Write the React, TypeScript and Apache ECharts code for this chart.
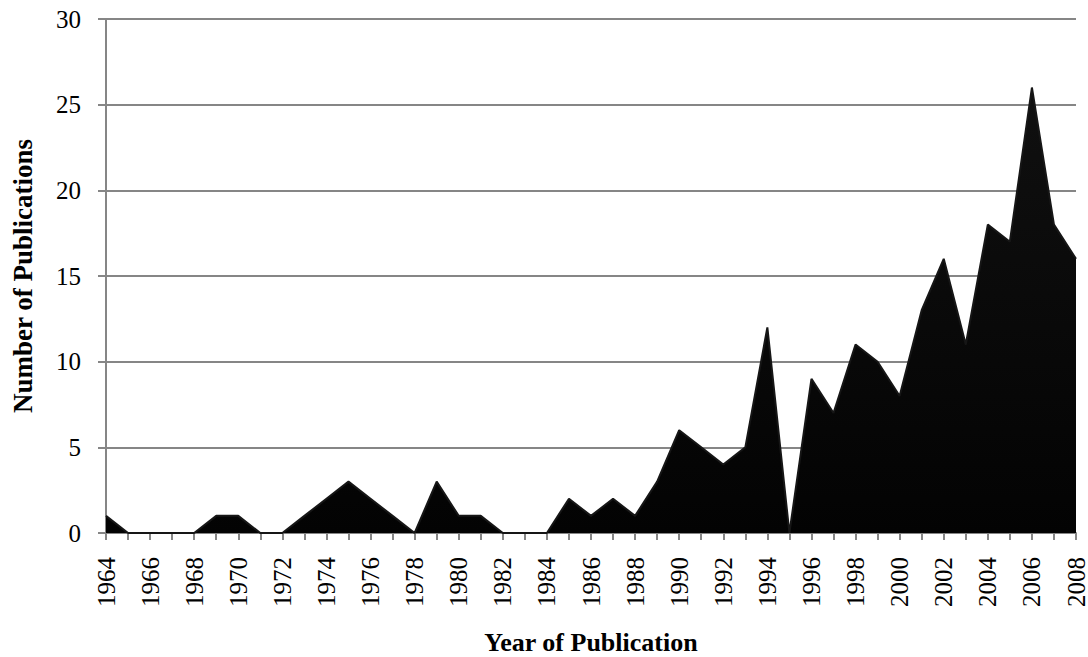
import React, { useEffect, useRef } from "react";
import * as echarts from "echarts";

const years: string[] = [
  "1964", "1965", "1966", "1967", "1968", "1969", "1970", "1971", "1972", "1973",
  "1974", "1975", "1976", "1977", "1978", "1979", "1980", "1981", "1982", "1983",
  "1984", "1985", "1986", "1987", "1988", "1989", "1990", "1991", "1992", "1993",
  "1994", "1995", "1996", "1997", "1998", "1999", "2000", "2001", "2002", "2003",
  "2004", "2005", "2006", "2007", "2008",
];

const publications: number[] = [
  1, 0, 0, 0, 0, 1, 1, 0, 0, 1,
  2, 3, 2, 1, 0, 3, 1, 1, 0, 0,
  0, 2, 1, 2, 1, 3, 6, 5, 4, 5,
  12, 0, 9, 7, 11, 10, 8, 13, 16, 11,
  18, 17, 26, 18, 16,
];

const yTicks = { min: 0, max: 30, interval: 5 };

const FONT = "'Liberation Serif', 'Times New Roman', serif";
const GRID = "#868686";

export default function App() {
  const ref = useRef<HTMLDivElement>(null);
  useEffect(() => {
    if (!ref.current) return;
    const chart = echarts.init(ref.current, undefined, { renderer: "svg" });
    chart.setOption({
      animation: false,
      backgroundColor: "#ffffff",
      grid: {
        left: 106,
        right: 12,
        top: 19,
        bottom: 124,
        containLabel: false,
        outerBoundsMode: "none",
      },
      xAxis: {
        type: "category",
        data: years,
        boundaryGap: false,
        name: "Year of Publication",
        nameLocation: "middle",
        nameGap: 96,
        nameTextStyle: {
          fontFamily: FONT,
          fontSize: 26,
          lineHeight: 26,
          fontWeight: "bold",
          color: "#000",
        },
        axisLine: { show: true, lineStyle: { color: GRID, width: 2 } },
        axisTick: { show: true, interval: 0, length: 7, lineStyle: { color: GRID, width: 2 } },
        axisLabel: {
          interval: 1,
          rotate: 90,
          margin: 24,
          fontFamily: FONT,
          fontSize: 25,
          color: "#000",
        },
        splitLine: { show: false },
      },
      yAxis: {
        type: "value",
        min: yTicks.min,
        max: yTicks.max,
        interval: yTicks.interval,
        name: "Number of Publications",
        nameLocation: "middle",
        nameGap: 70,
        nameTextStyle: { fontFamily: FONT, fontSize: 27, fontWeight: "bold", color: "#000" },
        axisLine: { show: true, lineStyle: { color: GRID, width: 2 } },
        axisTick: { show: true, length: 8, lineStyle: { color: GRID, width: 2 } },
        axisLabel: { margin: 25, fontFamily: FONT, fontSize: 25, color: "#000" },
        splitLine: { show: true, lineStyle: { color: GRID, width: 2 } },
      },
      series: [
        {
          type: "line",
          data: publications,
          symbol: "none",
          lineStyle: { color: "#161616", width: 2 },
          areaStyle: {
            color: new echarts.graphic.LinearGradient(0, 0, 0, 1, [
              { offset: 0, color: "#101010" },
              { offset: 1, color: "#030303" },
            ]),
            opacity: 1,
          },
          z: 3,
        },
      ],
    });
    return () => chart.dispose();
  }, []);
  return <div ref={ref} style={{ width: 1088, height: 657, position: "absolute", left: 0, top: 0 }} />;
}
